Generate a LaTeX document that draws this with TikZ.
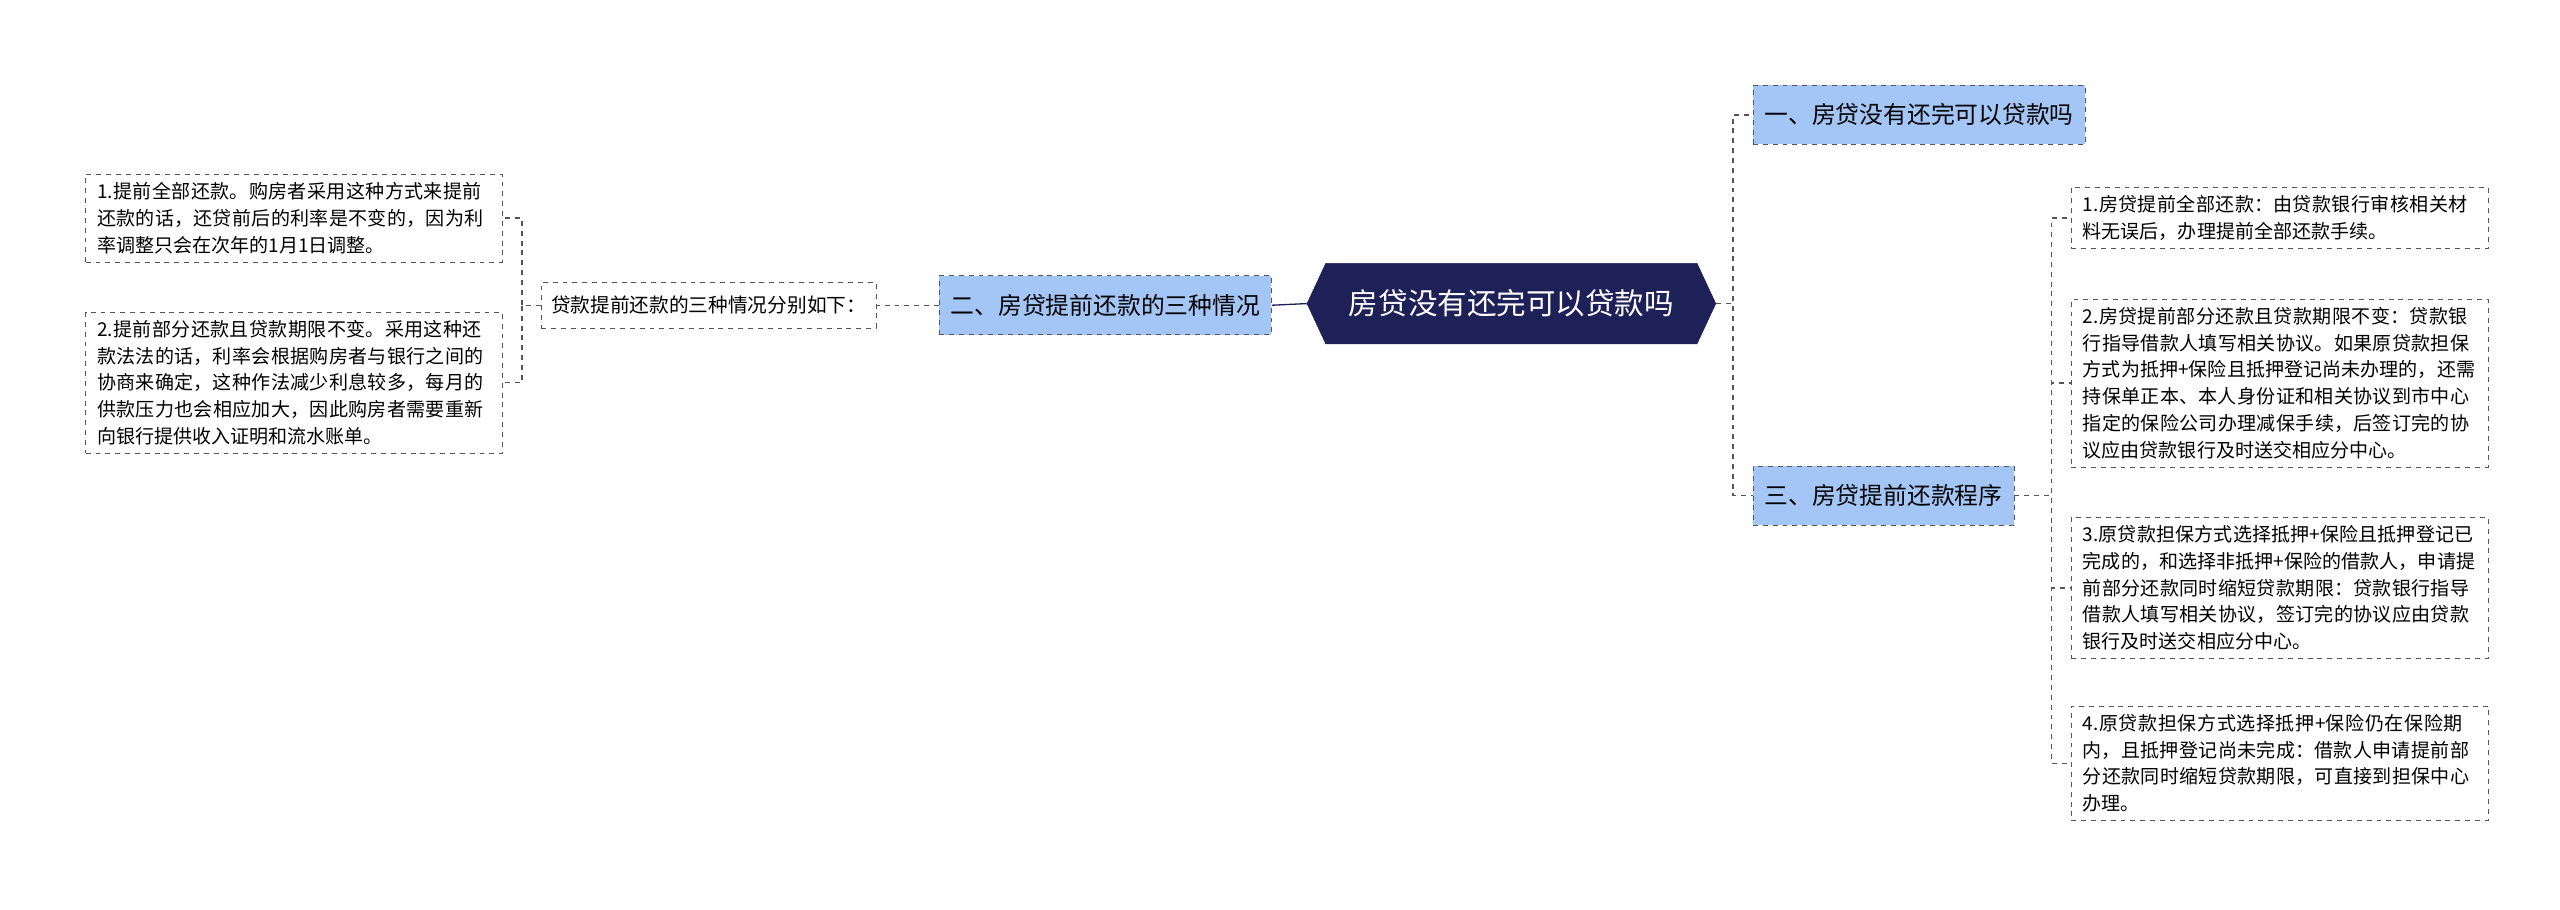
\documentclass[tikz,border=0pt]{standalone}
\usepackage{fontspec}
\setmainfont{Noto Sans CJK SC}
\XeTeXlinebreaklocale "zh"
\XeTeXlinebreakskip=0pt plus 1pt
\usetikzlibrary{positioning,shapes.symbols}
\definecolor{rootblue}{HTML}{1E2157}
\definecolor{subblue}{HTML}{A3C6F7}
\definecolor{linegray}{HTML}{555555}
\tikzset{
  rootbox/.style={shape=signal,signal to=west and east,signal pointer angle=130,fill=rootblue,draw=rootblue,text=white,
    minimum width=249pt,minimum height=49pt,inner xsep=4pt,font=\fontsize{18}{20}\selectfont},
  subbox/.style={draw=linegray,dashed,fill=subblue,minimum height=36pt,inner xsep=7pt,font=\fontsize{14.5}{16}\selectfont},
  leafbox/.style={draw=linegray,dashed,fill=white,align=left,inner xsep=7pt,inner ysep=5pt,
    text width=240pt,font=\fontsize{11.6}{16.3}\selectfont},
  link/.style={draw=linegray,dashed,thick}
}
\begin{document}
\begin{tikzpicture}[x=1pt,y=-1pt]
\useasboundingbox (0,0) rectangle (1560,554);
% centre
\node[rootbox] (root) at (921,185) {房贷没有还完可以贷款吗};
% left branch
\node[subbox,anchor=east] (q2) at (775,186) {二、房贷提前还款的三种情况};
\node[draw=linegray,dashed,fill=white,anchor=east,inner xsep=6pt,minimum height=28pt,
  font=\fontsize{12}{14}\selectfont] (intro) at (534,186) {贷款提前还款的三种情况分别如下：};
\node[leafbox,anchor=north west] (l1) at (52,106) {1.提前全部还款。购房者采用这种方式来提前还款的话，还贷前后的利率是不变的，因为利率调整只会在次年的1月1日调整。};
\node[leafbox,anchor=north west] (l2) at (52,190) {2.提前部分还款且贷款期限不变。采用这种还款法法的话，利率会根据购房者与银行之间的协商来确定，这种作法减少利息较多，每月的供款压力也会相应加大，因此购房者需要重新向银行提供收入证明和流水账单。};
% right branch
\node[subbox,anchor=west] (q1) at (1068,70) {一、房贷没有还完可以贷款吗};
\node[subbox,anchor=west] (q3) at (1068,302) {三、房贷提前还款程序};
\node[leafbox,anchor=north west] (r1) at (1262,114) {1.房贷提前全部还款：由贷款银行审核相关材料无误后，办理提前全部还款手续。};
\node[leafbox,anchor=north west] (r2) at (1262,182) {2.房贷提前部分还款且贷款期限不变：贷款银行指导借款人填写相关协议。如果原贷款担保方式为抵押+保险且抵押登记尚未办理的，还需持保单正本、本人身份证和相关协议到市中心指定的保险公司办理减保手续，后签订完的协议应由贷款银行及时送交相应分中心。};
\node[leafbox,anchor=north west] (r3) at (1262,315) {3.原贷款担保方式选择抵押+保险且抵押登记已完成的，和选择非抵押+保险的借款人，申请提前部分还款同时缩短贷款期限：贷款银行指导借款人填写相关协议，签订完的协议应由贷款银行及时送交相应分中心。};
\node[leafbox,anchor=north west] (r4) at (1262,430) {4.原贷款担保方式选择抵押+保险仍在保险期内，且抵押登记尚未完成：借款人申请提前部分还款同时缩短贷款期限，可直接到担保中心办理。};
% connectors
\draw[draw=rootblue,thick] (root.west) -- (q2.east);
\draw[link] (q2.west) -- (intro.east);
\foreach \t in {l1,l2}
  \draw[link] (intro.west) -| (318,0 |- \t.east) -- (\t.east);
\foreach \t in {q1,q3}
  \draw[link] (root.east) -| (1056,0 |- \t.west) -- (\t.west);
\foreach \t in {r1,r2,r3,r4}
  \draw[link] (q3.east) -| (1250,0 |- \t.west) -- (\t.west);
\end{tikzpicture}
\end{document}
